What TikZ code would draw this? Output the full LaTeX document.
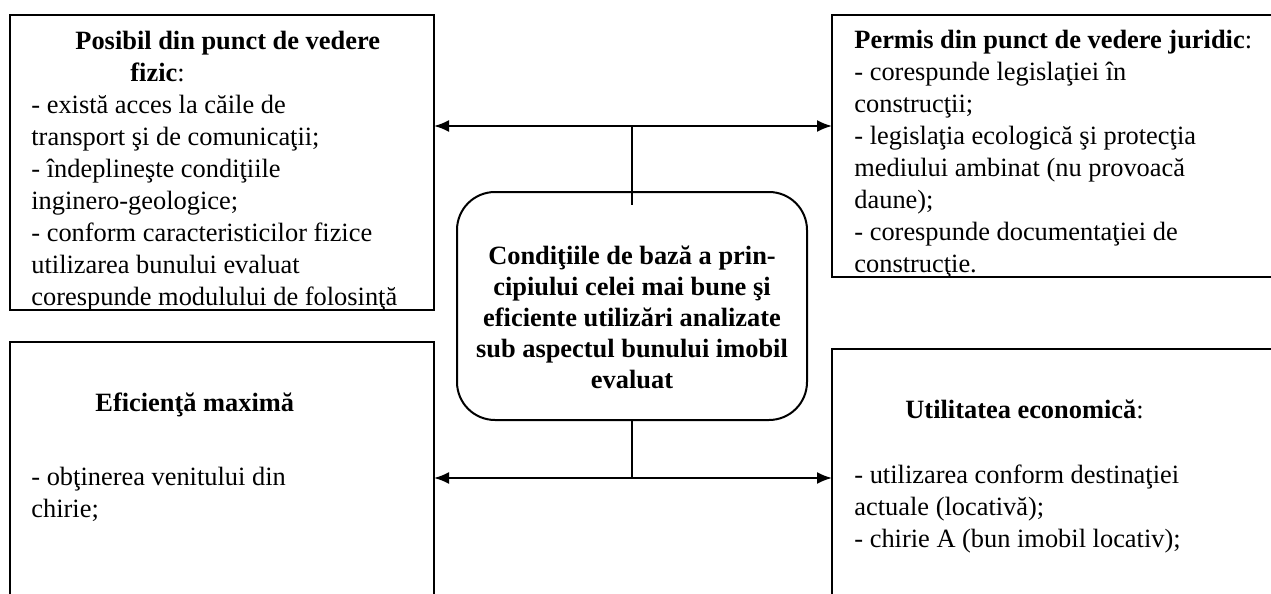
\documentclass[tikz,border=0pt]{standalone}
\usepackage{fontspec}
\setmainfont{Liberation Serif}
\usetikzlibrary{arrows.meta}

\tikzset{
	box/.style={draw, line width=1pt, rectangle, inner sep=0, outer sep=0},
	txt/.style={anchor=base west, align=left, inner sep=0, font=\fontsize{13.2pt}{16pt}\selectfont},
	link/.style={line width=1pt, {Latex[length=7.5pt,width=6pt]}-{Latex[length=7.5pt,width=6pt]}}
}

\begin{document}
\begin{tikzpicture}[x=0.5pt, y=-0.5pt]
	\useasboundingbox (0,0) rectangle (1271,594);
	\clip (0,0) rectangle (1271,594);

	% boxes
	\node[box, minimum width=212pt, minimum height=147.5pt] (fizic) at (222,162.5) {};
	\node[box, minimum width=229pt, minimum height=131pt] (juridic) at (1061,146) {};
	\node[box, minimum width=212pt, minimum height=139pt] (eficienta) at (222,481) {};
	\node[box, minimum width=229pt, minimum height=135.5pt] (economic) at (1061,484.5) {};
	\node[box, rounded corners=19pt, minimum width=175pt, minimum height=114pt] (baza) at (632,306) {};

	% texts (anchored at the baseline of the last line)
	\node[anchor=base, align=center, inner sep=0, font=\fontsize{13.2pt}{15.5pt}\selectfont\bfseries] (baza text) at (632,388)
		{Condiţiile de bază a prin-\\cipiului celei mai bune şi\\eficiente utilizări analizate\\sub aspectul bunului imobil\\evaluat};
	\begin{scope}
		\clip (fizic.north west) rectangle (fizic.south east);
		\node[txt] (fizic text) at (31,305) {\hspace*{22pt}\textbf{Posibil din punct de vedere}\\
			\hspace*{49.5pt}\textbf{fizic}:\\
			- există acces la căile de\\
			transport şi de comunicaţii;\\
			- îndeplineşte condiţiile\\
			inginero-geologice;\\
			- conform caracteristicilor fizice\\
			utilizarea bunului evaluat\\
			corespunde modulului de folosinţă};
	\end{scope}
	\begin{scope}
		\clip (juridic.north west) rectangle (juridic.south east);
		\node[txt] (juridic text) at (854,272) {\textbf{Permis din punct de vedere juridic}:\\
			- corespunde legislaţiei în\\
			construcţii;\\
			- legislaţia ecologică şi protecţia\\
			mediului ambinat (nu provoacă\\
			daune);\\
			- corespunde documentaţiei de\\
			construcţie.};
	\end{scope}
	\node[txt] (eficienta text) at (31,517) {\hspace*{32pt}\textbf{Eficienţă maximă}\\[21pt]
		- obţinerea venitului din\\
		chirie;};
	\node[txt] (economic text) at (854,547) {\hspace*{25.5pt}\textbf{Utilitatea economică}:\\[16.5pt]
		- utilizarea conform destinaţiei\\
		actuale (locativă);\\
		- chirie A (bun imobil locativ);};

	% connectors
	\coordinate (sus) at (632,126);
	\coordinate (jos) at (632,478);
	\draw[link] (fizic.east |- sus) -- (juridic.west |- sus);
	\draw[line width=1pt] (sus) -- ([yshift=-6.5pt]baza.north);
	\draw[link] (eficienta.east |- jos) -- (economic.west |- jos);
	\draw[line width=1pt] (baza.south) -- (jos);
\end{tikzpicture}
\end{document}
